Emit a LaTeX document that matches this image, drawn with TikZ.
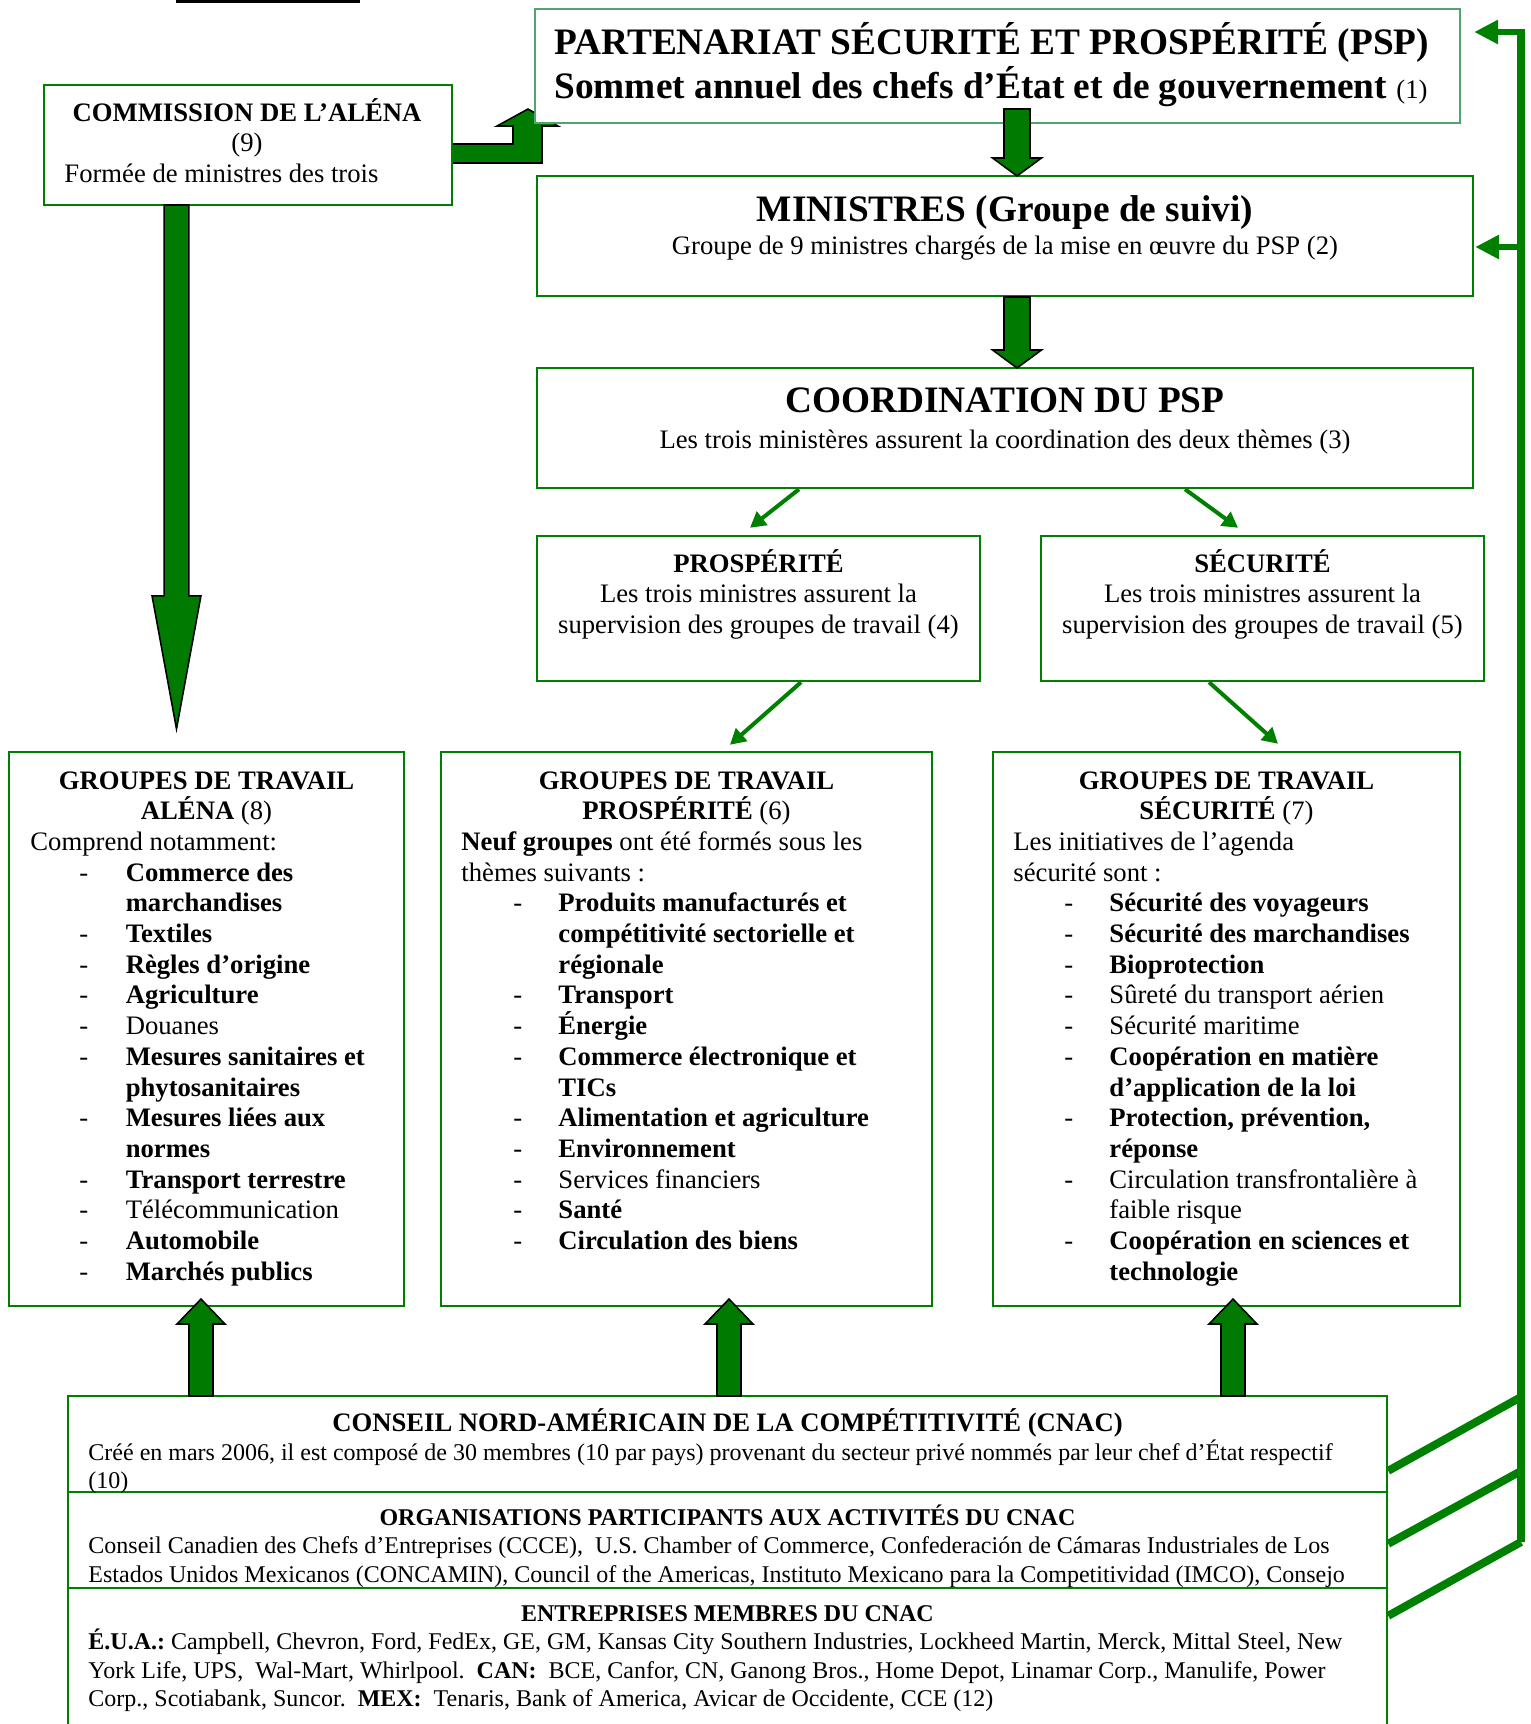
\documentclass[tikz,border=0pt]{standalone}
\usepackage{fontspec}
\setmainfont{Liberation Serif}
\usetikzlibrary{arrows.meta,calc,fit}
\frenchspacing
\definecolor{bx}{RGB}{0,128,0}
\definecolor{pspc}{RGB}{77,166,109}
\definecolor{fat}{RGB}{0,122,0}
\newcommand\fs[2]{\fontsize{#1}{#2}\selectfont}
\newlength\dashoff
\newlength\itemoff
\newcommand\li[1]{\hspace*{\dashoff}\makebox[\itemoff][l]{-}#1}
\newcommand\lc[1]{\hspace*{\dashoff}\hspace*{\itemoff}#1}
\newcommand\lpar[3]{\parbox[t]{300pt}{\setlength\dashoff{#1}\setlength\itemoff{#2}\fs{12}{13.82}#3}}
\newcommand\cpar[1]{\parbox[t]{300pt}{\centering\fs{12}{13.82}#1}}
\newcommand\cnacpar[1]{\parbox[t]{620pt}{\fs{10.8}{12.87}#1}}
\newcommand\fatv[5]{\draw[fatarrow] let \p1=#1,\p2=#2 in (\x1-#3,\y1) -- (\x1-#3,\y2#5) -- (\x1-#4,\y2#5) -- (\x1,\y2) -- (\x1+#4,\y2#5) -- (\x1+#3,\y2#5) -- (\x1+#3,\y1) -- cycle;}
\begin{document}
\begin{tikzpicture}[x=0.45pt,y=-0.45pt,
  box/.style={draw=bx,line width=1.1pt,fill=white,inner sep=0pt},
  txt/.style={inner sep=0pt},
  fatarrow/.style={fill=fat,draw=black,line width=0.7pt,line join=miter},
  thinarrow/.style={draw=bx,line width=1.8pt,-{Triangle[length=7pt,width=7.5pt]}},
  fb/.style={draw=bx,line width=3.6pt},
  fbarrow/.style={draw=bx,line width=2.7pt,-{Triangle[length=10.8pt,width=10.4pt]}}]
\useasboundingbox (0,0) rectangle (1531,1724);
\clip (0,0) rectangle (1531,1724);
\fill[white] (0,0) rectangle (1531,1724);
\fill[black] (176,0) rectangle (360,2.5);

% L-shaped arrow from the commission to the PSP (under the PSP box)
\draw[fatarrow] (452,144) -- (513,144) -- (513,126) -- (497,126) -- (528,109) -- (558,126) -- (542,126) -- (542,163) -- (452,163) -- cycle;

% boxes
\node[box,draw=pspc,fit={(535,9)(1460,123)}] (psp) {};
\node[box,fit={(44,85)(452,205)}] (com) {};
\node[box,fit={(537,176)(1473,296)}] (min) {};
\node[box,fit={(537,368)(1473,488)}] (coord) {};
\node[box,fit={(537,536)(980,681)}] (pros) {};
\node[box,fit={(1041,536)(1484,681)}] (sec) {};
\node[box,fit={(9,752)(404,1306)}] (galena) {};
\node[box,fit={(441,752)(932,1306)}] (gpros) {};
\node[box,fit={(993,752)(1460,1306)}] (gsec) {};
\node[box,fit={(68,1396)(1387,1760)}] (cnac) {};
\draw[bx,line width=1.1pt] (68,1492) -- (1387,1492);
\draw[bx,line width=1.1pt] (68,1588) -- (1387,1588);

% texts
\node[txt,anchor=base west,font=\fs{16.8}{19}\bfseries] (t1) at (554,54) {PARTENARIAT SÉCURITÉ ET PROSPÉRITÉ (PSP)};
\node[txt,anchor=base west,font=\fs{16.8}{19}\bfseries] (t2) at (554,98) {Sommet annuel des chefs d’État et de gouvernement {\mdseries\fs{12}{14}(1)}};
\node[txt,anchor=base,font=\fs{12}{14}\bfseries] (t3) at (247,121) {COMMISSION DE L’ALÉNA};
\node[txt,anchor=base,font=\fs{12}{14}] (t4) at (247,151) {(9)};
\node[txt,anchor=base west,font=\fs{12}{14}] (t5) at (64,182) {Formée de ministres des trois};
\node[txt,anchor=base,font=\fs{16.8}{19}\bfseries] (t6) at (1005,221) {MINISTRES (Groupe de suivi)};
\node[txt,anchor=base,font=\fs{12}{14}] (t7) at (1005,254) {Groupe de 9 ministres chargés de la mise en œuvre du PSP (2)};
\node[txt,anchor=base,font=\fs{16.8}{19}\bfseries] (t8) at (1005,412) {COORDINATION DU PSP};
\node[txt,anchor=base,font=\fs{12}{14}] (t9) at (1005,448) {Les trois ministères assurent la coordination des deux thèmes (3)};
\node[txt,anchor=base] (t10) at (758.5,572) {\cpar{\textbf{PROSPÉRITÉ}\\Les trois ministres assurent la\\supervision des groupes de travail (4)}};
\node[txt,anchor=base] (t11) at (1262.5,572) {\cpar{\textbf{SÉCURITÉ}\\Les trois ministres assurent la\\supervision des groupes de travail (5)}};

\node[txt,anchor=base] (h1) at (206.5,789) {\cpar{\textbf{GROUPES DE TRAVAIL}\\\textbf{ALÉNA} (8)}};
\node[txt,anchor=base] (h2) at (686.5,789) {\cpar{\textbf{GROUPES DE TRAVAIL}\\\textbf{PROSPÉRITÉ} (6)}};
\node[txt,anchor=base] (h3) at (1226.5,789) {\cpar{\textbf{GROUPES DE TRAVAIL}\\\textbf{SÉCURITÉ} (7)}};

\node[txt,anchor=base west] (l1) at (30,850.4) {\lpar{22pt}{20.9pt}{Comprend notamment:\\
\li{\textbf{Commerce des}}\\
\lc{\textbf{marchandises}}\\
\li{\textbf{Textiles}}\\
\li{\textbf{Règles d’origine}}\\
\li{\textbf{Agriculture}}\\
\li{Douanes}\\
\li{\textbf{Mesures sanitaires et}}\\
\lc{\textbf{phytosanitaires}}\\
\li{\textbf{Mesures liées aux}}\\
\lc{\textbf{normes}}\\
\li{\textbf{Transport terrestre}}\\
\li{Télécommunication}\\
\li{\textbf{Automobile}}\\
\li{\textbf{Marchés publics}}}};

\node[txt,anchor=base west] (l2) at (461,850.4) {\lpar{23.4pt}{20.25pt}{\textbf{Neuf groupes} ont été formés sous les\\
thèmes suivants :\\
\li{\textbf{Produits manufacturés et}}\\
\lc{\textbf{compétitivité sectorielle et}}\\
\lc{\textbf{régionale}}\\
\li{\textbf{Transport}}\\
\li{\textbf{Énergie}}\\
\li{\textbf{Commerce électronique et}}\\
\lc{\textbf{TICs}}\\
\li{\textbf{Alimentation et agriculture}}\\
\li{\textbf{Environnement}}\\
\li{Services financiers}\\
\li{\textbf{Santé}}\\
\li{\textbf{Circulation des biens}}}};

\node[txt,anchor=base west] (l3) at (1013,850.4) {\lpar{22.95pt}{20.25pt}{Les initiatives de l’agenda\\
sécurité sont :\\
\li{\textbf{Sécurité des voyageurs}}\\
\li{\textbf{Sécurité des marchandises}}\\
\li{\textbf{Bioprotection}}\\
\li{Sûreté du transport aérien}\\
\li{Sécurité maritime}\\
\li{\textbf{Coopération en matière}}\\
\lc{\textbf{d’application de la loi}}\\
\li{\textbf{Protection, prévention,}}\\
\lc{\textbf{réponse}}\\
\li{Circulation transfrontalière à}\\
\lc{faible risque}\\
\li{\textbf{Coopération en sciences et}}\\
\lc{\textbf{technologie}}}};

% CNAC cells
\begin{scope}
\clip (68,1396) rectangle (1387,1492);
\node[txt,anchor=base,font=\fs{12}{14}\bfseries] (c1) at (727.5,1431) {CONSEIL NORD-AMÉRICAIN DE LA COMPÉTITIVITÉ (CNAC)};
\node[txt,anchor=base west] (c2) at (88,1460) {\cnacpar{Créé en mars 2006, il est composé de 30 membres (10 par pays) provenant du secteur privé nommés par leur chef d’État respectif\\(10)}};
\end{scope}
\begin{scope}
\clip (68,1492) rectangle (1387,1588);
\node[txt,anchor=base,font=\fs{10.8}{12.9}\bfseries] (c3) at (727.5,1525) {ORGANISATIONS PARTICIPANTS AUX ACTIVITÉS DU CNAC};
\node[txt,anchor=base west] (c4) at (88,1553.6) {\cnacpar{Conseil Canadien des Chefs d’Entreprises (CCCE),\ \ U.S. Chamber of Commerce, Confederación de Cámaras Industriales de Los\\Estados Unidos Mexicanos (CONCAMIN), Council of the Americas, Instituto Mexicano para la Competitividad (IMCO), Consejo}};
\end{scope}
\begin{scope}
\clip (68,1588) rectangle (1387,1724);
\node[txt,anchor=base,font=\fs{10.8}{12.9}\bfseries] (c5) at (727.5,1621) {ENTREPRISES MEMBRES DU CNAC};
\node[txt,anchor=base west] (c6) at (88,1649.6) {\cnacpar{\textbf{É.U.A.:} Campbell, Chevron, Ford, FedEx, GE, GM, Kansas City Southern Industries, Lockheed Martin, Merck, Mittal Steel, New\\York Life, UPS,\ \ Wal-Mart, Whirlpool.\ \ \textbf{CAN:}\ \ BCE, Canfor, CN, Ganong Bros., Home Depot, Linamar Corp., Manulife, Power\\Corp., Scotiabank, Suncor.\ \ \textbf{MEX:}\ \ Tenaris, Bank of America, Avicar de Occidente, CCE (12)}};
\end{scope}

% fat arrows
\coordinate (a1s) at (1017,109);  \coordinate (a1t) at (1017,176);
\coordinate (a2s) at (1017,297);  \coordinate (a2t) at (1017,368);
\coordinate (a3s) at (176.5,205); \coordinate (a3t) at (176.5,729);
\coordinate (u1s) at (201,1396);  \coordinate (u1t) at (201,1299);
\coordinate (u2s) at (729,1396);  \coordinate (u2t) at (729,1299);
\coordinate (u3s) at (1233,1396); \coordinate (u3t) at (1233,1299);
\fatv{(a1s)}{(a1t)}{5.85pt}{11pt}{+8.1pt}
\fatv{(a2s)}{(a2t)}{5.85pt}{11pt}{+8.1pt}
\fatv{(a3s)}{(a3t)}{5.6pt}{11pt}{+59.9pt}
\fatv{(u1s)}{(u1t)}{5.4pt}{10.8pt}{-11.25pt}
\fatv{(u2s)}{(u2t)}{5.4pt}{10.8pt}{-11.25pt}
\fatv{(u3s)}{(u3t)}{5.4pt}{10.8pt}{-11.25pt}

% thin arrows
\draw[thinarrow] ($(coord.south)+(-206,0)$) -- ($(pros.north)+(-8.5,-7)$);
\draw[thinarrow] ($(coord.south)+(180,0)$) -- ($(sec.north)+(-24.5,-7)$);
\draw[thinarrow] ($(pros.south)+(42.5,0)$) -- ($(gpros.north)+(43.5,-6)$);
\draw[thinarrow] ($(sec.south)+(-53.5,0)$) -- ($(gsec.north)+(51.5,-7)$);

% feedback lines on the right
\coordinate (vt) at (1521,29);
\coordinate (vb) at (1521,1542);
\draw[fb] (vt) -- (vb);
\draw[fbarrow] (1523,32) -- ($(psp.east)+(13,-34)$);
\draw[fbarrow] (1523,247) -- ($(min.east)+(1,11)$);
\draw[fb] ($(cnac.north east)+(0,76)$) -- (1521,1397);
\draw[fb] ($(cnac.north east)+(0,149)$) -- (1521,1471);
\draw[fb] ($(cnac.north east)+(0,221)$) -- (vb);
\end{tikzpicture}
\end{document}
